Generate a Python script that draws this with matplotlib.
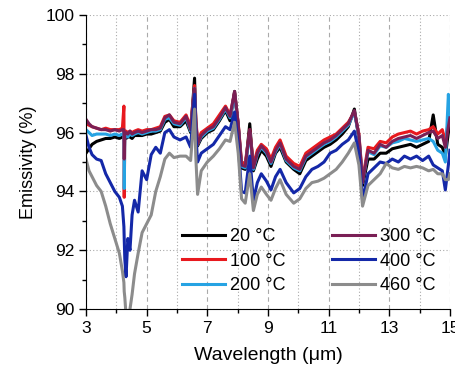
import matplotlib
matplotlib.use("Agg")
import matplotlib.pyplot as plt
from matplotlib.ticker import MultipleLocator

plt.rcParams['font.family'] = ['Liberation Sans', 'DejaVu Sans']

# shared wavelength grid (um)
wl = [3.00, 3.10, 3.20, 3.35, 3.50, 3.65, 3.80, 3.95, 4.10, 4.20,
      4.25, 4.26, 4.28, 4.32, 4.38, 4.45, 4.52, 4.60, 4.72, 4.85,
      5.00, 5.15, 5.30, 5.45, 5.60, 5.75, 5.90, 6.10, 6.30, 6.45,
      6.58, 6.62, 6.68, 6.80, 7.00, 7.20, 7.40, 7.60, 7.75, 7.90,
      8.02, 8.13, 8.25, 8.40, 8.52, 8.65, 8.78, 8.95, 9.10, 9.25,
      9.40, 9.60, 9.85, 10.05, 10.25, 10.45, 10.65, 10.85, 11.05, 11.25,
      11.45, 11.65, 11.85, 12.00, 12.12, 12.30, 12.50, 12.70, 12.90, 13.10,
      13.30, 13.50, 13.70, 13.90, 14.10, 14.30, 14.45, 14.60, 14.75, 14.85,
      14.95, 15.00]

e20 = [95.3, 95.45, 95.6, 95.7, 95.75, 95.8, 95.8, 95.85, 95.8, 95.85,
       95.85, 95.8, 95.8, 95.8, 95.85, 95.85, 95.8, 95.9, 95.9, 95.9,
       95.95, 95.95, 96.0, 96.05, 96.35, 96.45, 96.2, 96.2, 96.4, 96.0,
       97.85, 96.4, 95.55, 95.8, 96.0, 96.1, 96.4, 96.75, 96.4, 97.4,
       96.25, 94.8, 94.75, 96.3, 94.7, 95.1, 95.4, 95.2, 94.85, 95.3,
       95.5, 95.0, 94.75, 94.6, 95.05, 95.2, 95.35, 95.5, 95.6, 95.75,
       95.95, 96.2, 96.8, 95.8, 94.2, 95.1, 95.1, 95.3, 95.3, 95.45,
       95.5, 95.55, 95.6, 95.5, 95.6, 95.7, 96.6, 95.6, 95.5, 95.2,
       96.0, 96.3]

e100 = [96.3, 96.25, 96.2, 96.15, 96.1, 96.15, 96.1, 96.1, 96.1, 96.15,
        96.9, 93.8, 96.0, 96.05, 96.0, 96.05, 96.0, 96.05, 96.1, 96.05,
        96.1, 96.1, 96.15, 96.2, 96.55, 96.6, 96.4, 96.35, 96.6, 96.2,
        97.6, 96.5, 95.7, 96.0, 96.15, 96.3, 96.6, 96.9, 96.6, 97.35,
        96.3, 95.0, 94.95, 96.1, 94.9, 95.4, 95.6, 95.45, 95.1, 95.5,
        95.75, 95.2, 94.95, 94.85, 95.3, 95.45, 95.6, 95.75, 95.85, 95.95,
        96.15, 96.35, 96.7, 95.95, 94.4, 95.5, 95.45, 95.7, 95.65, 95.85,
        95.95, 96.0, 96.05, 95.95, 96.05, 96.1, 96.2, 95.95, 96.1, 95.7,
        96.4, 96.6]

e200 = [96.1, 96.0, 95.9, 95.95, 95.95, 95.95, 95.9, 95.95, 95.9, 95.95,
        96.0, 94.1, 95.9, 95.9, 95.85, 95.95, 95.9, 95.95, 96.0, 95.95,
        96.0, 96.05, 96.05, 96.1, 96.45, 96.5, 96.3, 96.25, 96.5, 96.05,
        97.5, 96.3, 95.6, 95.85, 96.05, 96.15, 96.45, 96.8, 96.5, 97.3,
        96.2, 94.85, 94.8, 96.0, 94.75, 95.25, 95.5, 95.3, 94.95, 95.35,
        95.6, 95.05, 94.8, 94.7, 95.15, 95.3, 95.45, 95.6, 95.7, 95.85,
        96.05, 96.25, 96.7, 95.85, 94.3, 95.35, 95.25, 95.55, 95.5, 95.65,
        95.7, 95.8, 95.75, 95.7, 95.75, 95.8, 95.7, 95.4, 95.3, 95.0,
        97.3, 96.4]

e300 = [96.45, 96.3, 96.2, 96.15, 96.1, 96.1, 96.05, 96.1, 96.05, 96.1,
        96.1, 95.1, 96.0, 96.0, 95.95, 96.05, 95.95, 96.0, 96.05, 96.0,
        96.05, 96.1, 96.1, 96.15, 96.5, 96.6, 96.35, 96.3, 96.55, 96.1,
        97.5, 96.4, 95.6, 95.9, 96.1, 96.2, 96.5, 96.85, 96.55, 97.4,
        96.3, 94.9, 94.85, 96.1, 94.8, 95.3, 95.55, 95.35, 95.0, 95.4,
        95.65, 95.1, 94.85, 94.75, 95.2, 95.35, 95.5, 95.65, 95.75, 95.9,
        96.1, 96.3, 96.75, 95.9, 94.3, 95.4, 95.3, 95.6, 95.5, 95.7,
        95.8, 95.85, 95.9, 95.8, 95.9, 96.0, 96.05, 95.8, 95.9, 95.5,
        96.2, 96.5]

e400 = [95.9, 95.5, 95.25, 95.1, 95.05, 94.6, 94.3, 94.0, 93.8, 93.5,
        92.8, 92.4, 91.7, 91.1, 92.4, 92.0, 93.2, 93.7, 93.3, 94.7,
        94.4, 95.25, 95.5, 95.3, 96.0, 96.1, 95.85, 95.75, 95.85, 95.5,
        97.3, 96.0, 95.0, 95.3, 95.45, 95.6, 95.9, 96.2, 96.1, 96.7,
        95.6, 94.0, 93.95, 95.2, 93.7, 94.3, 94.6, 94.35, 94.05, 94.5,
        94.75, 94.3, 93.95, 94.1, 94.5, 94.75, 94.85, 95.0, 95.3, 95.4,
        95.6, 95.75, 96.05, 95.3, 93.7, 94.6, 94.8, 95.0, 94.95, 95.1,
        95.0, 95.2, 95.1, 95.2, 95.05, 95.2, 94.9, 94.8, 94.7, 94.05,
        94.9, 95.4]

e460 = [95.1, 94.7, 94.5, 94.2, 94.0, 93.5, 92.9, 92.4, 91.9, 91.3,
        90.9, 90.6, 90.4, 89.8, 89.7, 90.0, 90.5, 91.2, 91.9, 92.6,
        92.9, 93.2, 94.0, 94.5, 95.1, 95.3, 95.15, 95.2, 95.2, 95.05,
        96.8, 95.2, 93.9, 94.7, 95.0, 95.2, 95.45, 95.75, 95.7, 96.35,
        95.3, 93.75, 93.6, 94.6, 93.35, 93.9, 94.15, 93.9, 93.7, 94.1,
        94.4, 93.9, 93.6, 93.75, 94.1, 94.3, 94.35, 94.45, 94.6, 94.75,
        95.0, 95.3, 95.65, 94.9, 93.5, 94.2, 94.4, 94.6, 94.95, 94.8,
        94.75, 94.85, 94.8, 94.85, 94.8, 94.7, 94.75, 94.6, 94.6, 94.4,
        94.4, 94.6]

series = [("20 °C", e20, "#000000"),
          ("100 °C", e100, "#e8191e"),
          ("200 °C", e200, "#26a3e3"),
          ("300 °C", e300, "#7a1f55"),
          ("400 °C", e400, "#1428a8"),
          ("460 °C", e460, "#8c8c8c")]

fig = plt.figure(figsize=(4.56, 3.72), dpi=100)
ax = fig.add_axes([0.1886, 0.169, 0.798, 0.791])

for label, vals, col in series:
    ax.plot(wl, vals, color=col, lw=2.2, label=label)

ax.set_xlim(3, 15)
ax.set_ylim(90, 100)
ax.set_xticks(range(3, 16, 2))
ax.set_xticks(range(4, 15, 2), minor=True)
ax.yaxis.set_major_locator(MultipleLocator(2))
ax.yaxis.set_minor_locator(MultipleLocator(1))

ax.grid(True, which='major', axis='x', ls=(0, (4, 3)), color='#aaaaaa', lw=0.8)
ax.grid(True, which='minor', axis='x', ls=(0, (1, 2)), color='#aaaaaa', lw=0.8)
ax.grid(True, which='major', axis='y', ls=(0, (1, 2)), color='#aaaaaa', lw=0.8)
ax.set_axisbelow(True)

ax.spines['top'].set_visible(False)
ax.spines['right'].set_visible(False)
ax.tick_params(which='major', direction='out', length=5, width=1, labelsize=12.5)
ax.tick_params(which='minor', direction='out', length=3, width=1)

ax.set_xlabel("Wavelength (μm)", fontsize=14, labelpad=8)
ax.set_ylabel("Emissivity (%)", fontsize=13, labelpad=6)

ax.legend(ncol=2, loc='lower right', bbox_to_anchor=(0.985, 0.02), frameon=False,
          fontsize=13, handlelength=2.4, handletextpad=0.25, columnspacing=2.6,
          labelspacing=0.42, borderpad=0)

fig.savefig("out.png", dpi=100)
